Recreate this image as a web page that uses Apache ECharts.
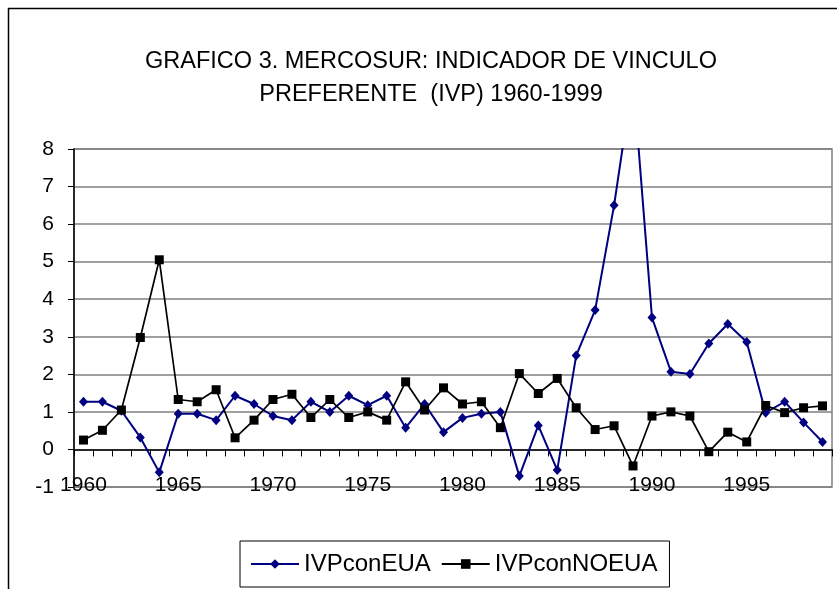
<!DOCTYPE html>
<html>
<head>
<meta charset="utf-8">
<script src="https://cdn.jsdelivr.net/npm/echarts@6/dist/echarts.min.js"></script>
<style>
html,body{margin:0;padding:0;background:#fff;}
#chart{width:838px;height:589px;}
</style>
</head>
<body>
<div id="chart"></div>
<script>
const years = ['1960','1961','1962','1963','1964','1965','1966','1967','1968','1969',
  '1970','1971','1972','1973','1974','1975','1976','1977','1978','1979',
  '1980','1981','1982','1983','1984','1985','1986','1987','1988','1989',
  '1990','1991','1992','1993','1994','1995','1996','1997','1998','1999'];
const ivpConEUA = [1.27,1.27,1.03,0.32,-0.61,0.95,0.95,0.78,1.43,1.21,
  0.89,0.78,1.27,1.0,1.43,1.18,1.43,0.58,1.21,0.46,
  0.84,0.95,1.0,-0.71,0.64,-0.55,2.5,3.71,6.5,9.9,
  3.51,2.07,2.01,2.82,3.34,2.86,0.98,1.27,0.72,0.2];
const ivpConNOEUA = [0.25,0.51,1.05,2.98,5.05,1.33,1.27,1.59,0.31,0.78,
  1.33,1.47,0.85,1.33,0.85,1.0,0.78,1.8,1.05,1.64,
  1.21,1.27,0.58,2.02,1.49,1.89,1.11,0.53,0.63,-0.44,
  0.89,1.0,0.89,-0.06,0.46,0.2,1.17,0.98,1.11,1.16];
const seriesNames = ['IVPconEUA','IVPconNOEUA'];
const titleText = 'GRAFICO 3. MERCOSUR: INDICADOR DE VINCULO\nPREFERENTE  (IVP) 1960-1999';

const FONT = "'Liberation Sans', Arial, sans-serif";
const chart = echarts.init(document.getElementById('chart'), null, {renderer:'canvas'});
chart.setOption({
  animation: false,
  backgroundColor: '#fff',
  textStyle: {fontFamily: FONT},
  graphic: [{
    type: 'polyline',
    shape: {points: [[8.5, 600], [8.5, 8.5], [837, 8.5]]},
    style: {stroke: '#000', lineWidth: 1.5, fill: null},
    silent: true
  }],
  title: {
    text: titleText,
    left: 426,
    top: 40,
    textAlign: 'center',
    textStyle: {fontFamily: FONT, fontSize: 23.5, fontWeight: 'normal', color: '#000', lineHeight: 33}
  },
  legend: {
    data: seriesNames,
    left: 240,
    top: 541,
    orient: 'horizontal',
    padding: [11, 12, 11, 10],
    itemGap: 10,
    itemWidth: 48,
    itemHeight: 12,
    borderColor: '#000',
    borderWidth: 1,
    backgroundColor: '#fff',
    textStyle: {fontFamily: FONT, fontSize: 24, color: '#000'}
  },
  grid: {
    left: 74, top: 149, width: 758, height: 338,
    show: true, borderColor: '#808080', borderWidth: 1.5, backgroundColor: 'transparent'
  },
  xAxis: [{
    type: 'category',
    data: years,
    boundaryGap: true,
    axisLine: {onZero: true, lineStyle: {color: '#000', width: 1.5}},
    axisTick: {show: true, interval: 0, length: 7, inside: false, lineStyle: {color: '#000', width: 1}},
    axisLabel: {show: false},
    splitLine: {show: false}
  }, {
    type: 'category',
    data: years,
    position: 'bottom',
    boundaryGap: true,
    axisLine: {show: false, onZero: false},
    axisTick: {show: false},
    axisLabel: {show: true, interval: 4, fontSize: 21, color: '#000', fontFamily: FONT, verticalAlign: 'middle', margin: -2},
    splitLine: {show: false}
  }],
  yAxis: {
    type: 'value',
    min: -1, max: 8, interval: 1,
    axisLine: {show: true, lineStyle: {color: '#000', width: 1.5}},
    axisTick: {show: true, length: 6, lineStyle: {color: '#000'}},
    axisLabel: {fontSize: 21, color: '#000', margin: 20, fontFamily: FONT},
    splitLine: {show: true, lineStyle: {color: '#808080', width: 1.5}}
  },
  series: [{
    name: seriesNames[0],
    type: 'line',
    data: ivpConEUA,
    xAxisIndex: 0,
    clip: true,
    symbol: 'diamond',
    symbolSize: [9, 10],
    showAllSymbol: true,
    lineStyle: {color: '#000080', width: 2},
    itemStyle: {color: '#000080'},
    z: 3
  }, {
    name: seriesNames[1],
    type: 'line',
    data: ivpConNOEUA,
    xAxisIndex: 0,
    clip: true,
    symbol: 'rect',
    symbolSize: 9,
    showAllSymbol: true,
    lineStyle: {color: '#000', width: 1.7},
    itemStyle: {color: '#000'},
    z: 4
  }]
});
</script>
</body>
</html>
